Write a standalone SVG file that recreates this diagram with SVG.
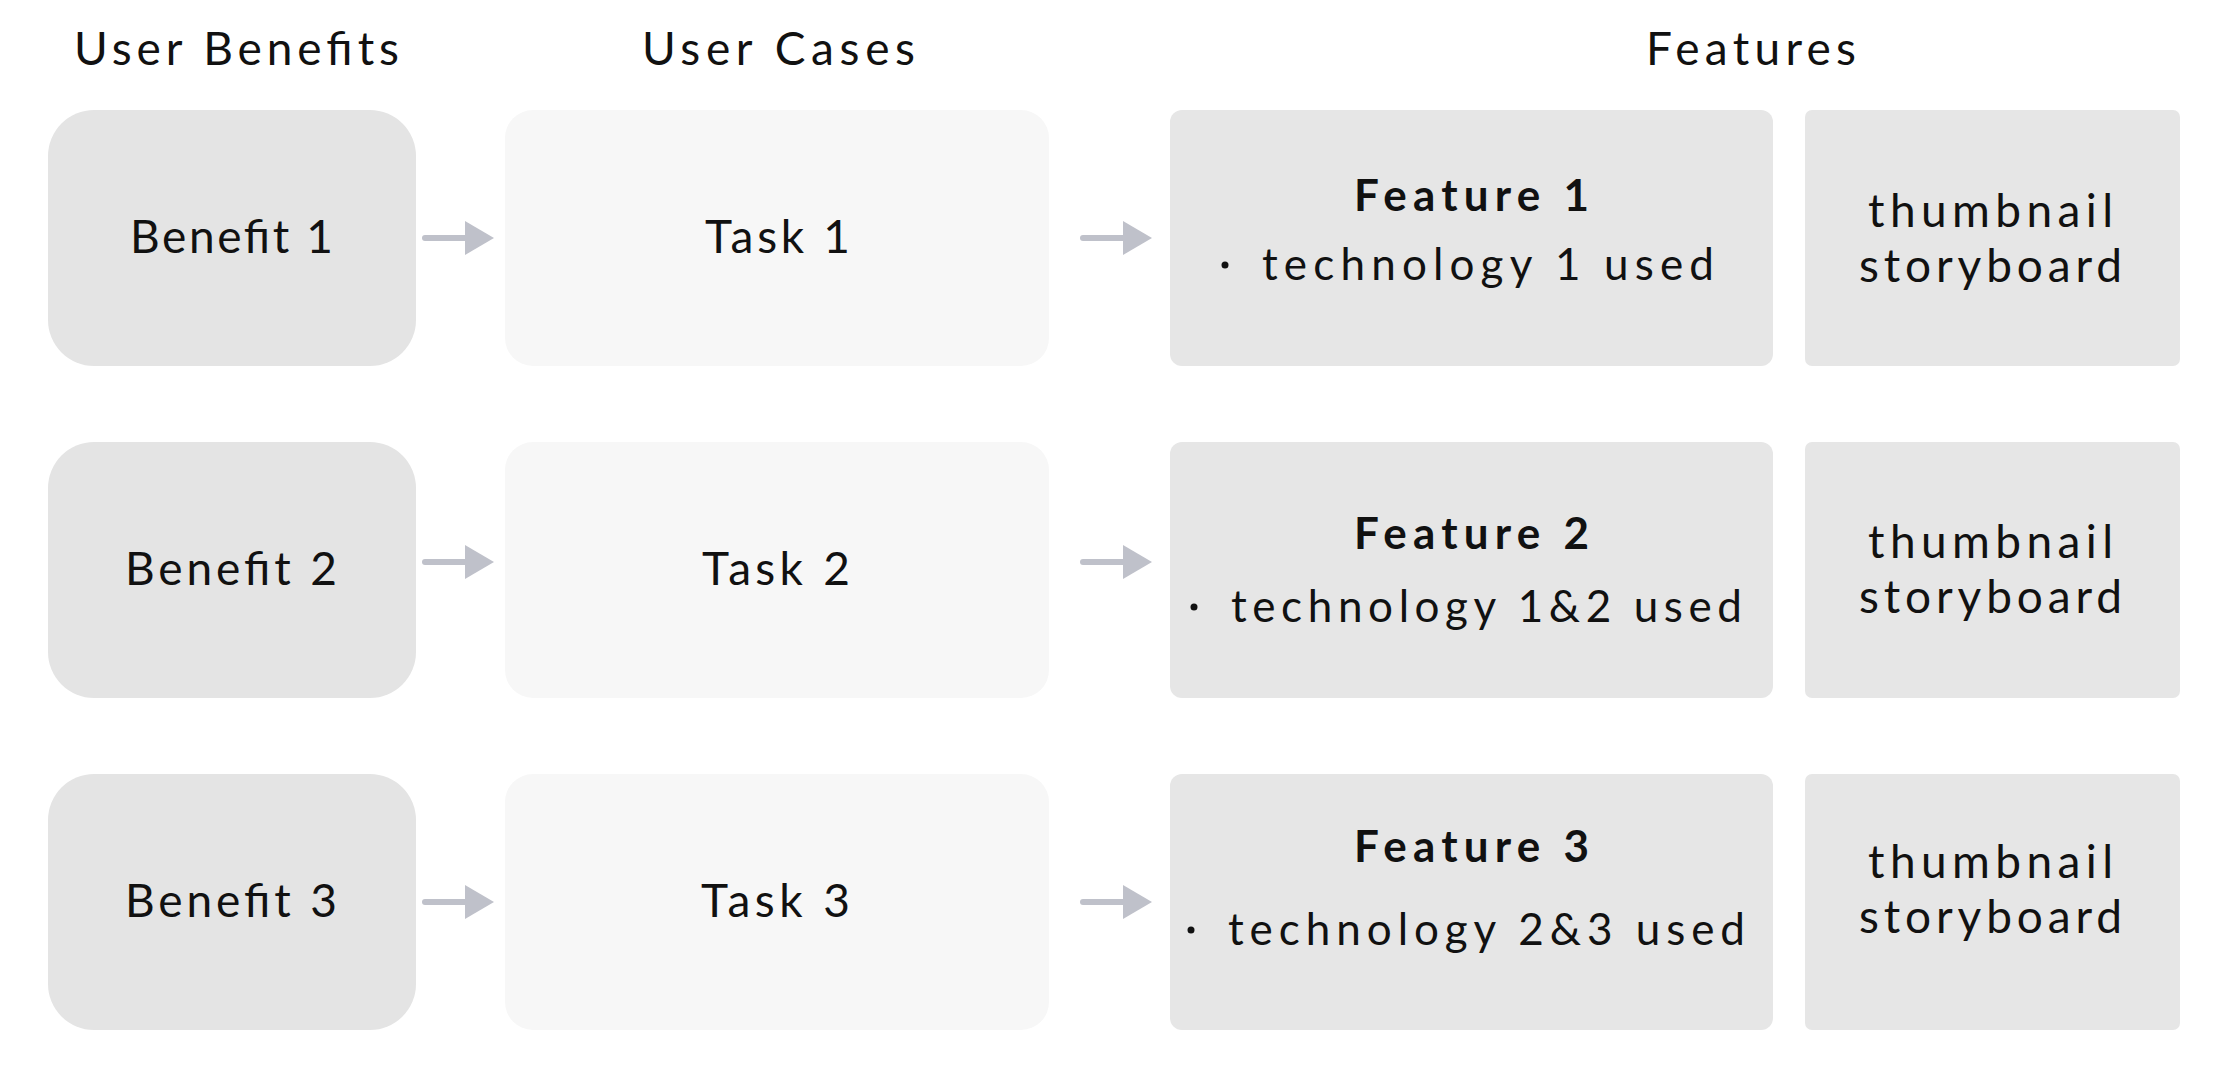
<svg xmlns="http://www.w3.org/2000/svg" width="2228" height="1070" viewBox="0 0 2228 1070">
<style>
text{font-family:Lato,"Open Sans","Liberation Sans",sans-serif;fill:#111;font-size:46px}
.h{font-size:46px}
.ft{font-size:44px;font-weight:700}
.tc{font-size:44px}
.ben{fill:#e4e4e4}
.task{fill:#f7f7f7}
.feat{fill:#e6e6e6}
.thumb{fill:#e6e6e6}
.conn{stroke:#bfc1ca;stroke-width:6;stroke-linecap:round;fill:none}
.dot{fill:#111}
</style>
<defs>
<marker id="ah" markerUnits="userSpaceOnUse" markerWidth="30" markerHeight="34" refX="0" refY="17" orient="auto" viewBox="0 0 30 34">
<path d="M0,0 L29,17 L0,34 Z" fill="#bfc1ca"/>
</marker>
</defs>
<rect width="2228" height="1070" fill="#fff"/>
<g id="headers">
<text class="h" x="74" y="65" textLength="325" lengthAdjust="spacing">User Benefits</text>
<text class="h" x="642" y="65" textLength="273" lengthAdjust="spacing">User Cases</text>
<text class="h" x="1646" y="65" textLength="210" lengthAdjust="spacing">Features</text>
</g>
<g id="connectors">
<line class="conn" x1="425" y1="238" x2="465" y2="238" marker-end="url(#ah)"/>
<line class="conn" x1="1083" y1="238" x2="1123" y2="238" marker-end="url(#ah)"/>
<line class="conn" x1="425" y1="562" x2="465" y2="562" marker-end="url(#ah)"/>
<line class="conn" x1="1083" y1="562" x2="1123" y2="562" marker-end="url(#ah)"/>
<line class="conn" x1="425" y1="902" x2="465" y2="902" marker-end="url(#ah)"/>
<line class="conn" x1="1083" y1="902" x2="1123" y2="902" marker-end="url(#ah)"/>
</g>
<g id="benefit1"><rect class="ben" x="48" y="110" width="368" height="256" rx="46"/><text x="130" y="253" textLength="203" lengthAdjust="spacing">Benefit 1</text></g>
<g id="task1"><rect class="task" x="505" y="110" width="544" height="256" rx="28"/><text x="705" y="253" textLength="145" lengthAdjust="spacing">Task 1</text></g>
<g id="feature1"><rect class="feat" x="1170" y="110" width="603" height="256" rx="12"/><text class="ft" x="1354" y="211" textLength="235" lengthAdjust="spacing">Feature 1</text><circle class="dot" cx="1225" cy="265" r="3.5"/><text class="tc" x="1262" y="280" textLength="452" lengthAdjust="spacing">technology 1 used</text></g>
<g id="thumb1"><rect class="thumb" x="1805" y="110" width="375" height="256" rx="7"/><text x="1868" y="227" textLength="245" lengthAdjust="spacing">thumbnail</text><text x="1859" y="282" textLength="263" lengthAdjust="spacing">storyboard</text></g>
<g id="benefit2"><rect class="ben" x="48" y="442" width="368" height="256" rx="46"/><text x="125" y="585" textLength="212" lengthAdjust="spacing">Benefit 2</text></g>
<g id="task2"><rect class="task" x="505" y="442" width="544" height="256" rx="28"/><text x="702" y="585" textLength="148" lengthAdjust="spacing">Task 2</text></g>
<g id="feature2"><rect class="feat" x="1170" y="442" width="603" height="256" rx="12"/><text class="ft" x="1354" y="549" textLength="235" lengthAdjust="spacing">Feature 2</text><circle class="dot" cx="1194" cy="607" r="3.5"/><text class="tc" x="1231" y="622" textLength="511" lengthAdjust="spacing">technology 1&amp;2 used</text></g>
<g id="thumb2"><rect class="thumb" x="1805" y="442" width="375" height="256" rx="7"/><text x="1868" y="558" textLength="245" lengthAdjust="spacing">thumbnail</text><text x="1859" y="613" textLength="263" lengthAdjust="spacing">storyboard</text></g>
<g id="benefit3"><rect class="ben" x="48" y="774" width="368" height="256" rx="46"/><text x="125" y="917" textLength="212" lengthAdjust="spacing">Benefit 3</text></g>
<g id="task3"><rect class="task" x="505" y="774" width="544" height="256" rx="28"/><text x="701" y="917" textLength="149" lengthAdjust="spacing">Task 3</text></g>
<g id="feature3"><rect class="feat" x="1170" y="774" width="603" height="256" rx="12"/><text class="ft" x="1354" y="862" textLength="235" lengthAdjust="spacing">Feature 3</text><circle class="dot" cx="1191" cy="930" r="3.5"/><text class="tc" x="1228" y="945" textLength="517" lengthAdjust="spacing">technology 2&amp;3 used</text></g>
<g id="thumb3"><rect class="thumb" x="1805" y="774" width="375" height="256" rx="7"/><text x="1868" y="878" textLength="245" lengthAdjust="spacing">thumbnail</text><text x="1859" y="933" textLength="263" lengthAdjust="spacing">storyboard</text></g>
</svg>
